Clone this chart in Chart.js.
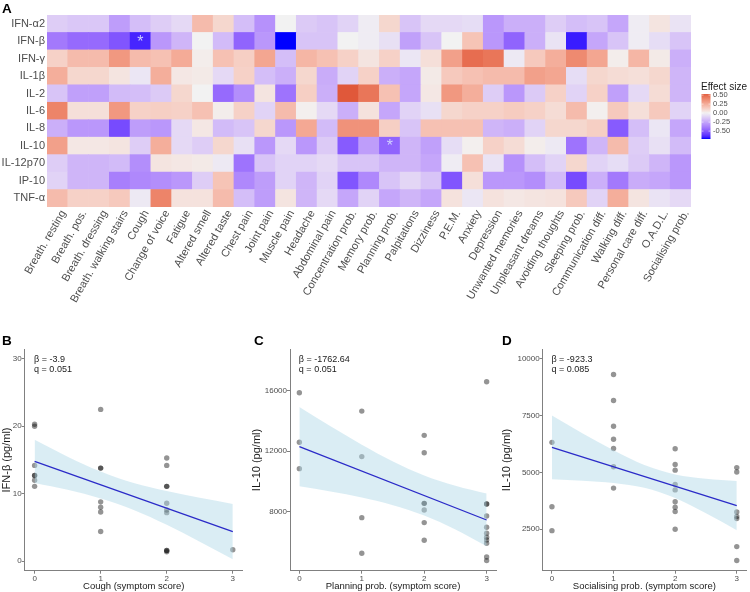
<!DOCTYPE html>
<html>
<head>
<meta charset="utf-8">
<title>Cytokines vs symptoms</title>
<script src="https://cdn.jsdelivr.net/npm/chart.js@4.4.1/dist/chart.umd.min.js"></script>
<style>
  body { margin: 0; background: #fff; font-family: "Liberation Sans", Arial, sans-serif; }
  #page { position: relative; width: 750px; height: 592px; overflow: hidden; }
  .box { position: absolute; }
  .tag { position: absolute; font-size: 13.5px; font-weight: bold; color: #000; line-height: 1; }
</style>
</head>
<body>
<div id="page">
  <div class="box" style="left:0;top:0;width:750px;height:330px"><canvas id="heat"></canvas></div>
  <div class="box" style="left:0;top:330px;width:250px;height:262px"><canvas id="panelB"></canvas></div>
  <div class="box" style="left:250px;top:330px;width:250px;height:262px"><canvas id="panelC"></canvas></div>
  <div class="box" style="left:500px;top:330px;width:250px;height:262px"><canvas id="panelD"></canvas></div>
  <div class="tag" style="left:2px;top:1.5px">A</div>
  <div class="tag" style="left:2px;top:334px">B</div>
  <div class="tag" style="left:254px;top:334px">C</div>
  <div class="tag" style="left:502px;top:334px">D</div>
</div>
<script>
// ---- panel A: effect sizes (rows = cytokines, columns = symptoms) ----
const symptoms = ["Breath. resting", "Breath. pos.", "Breath. dressing", "Breath. walking stairs", "Cough",
  "Change of voice", "Fatigue", "Altered smell", "Altered taste", "Chest pain", "Joint pain", "Muscle pain",
  "Headache", "Abdominal pain", "Concentration prob.", "Memory prob.", "Planning prob.", "Palpitations",
  "Dizziness", "P.E.M.", "Anxiety", "Depression", "Unwanted memories", "Unpleasant dreams",
  "Avoiding thoughts", "Sleeping prob.", "Communication diff.", "Walking diff.", "Personal care diff.",
  "O.A.D.L.", "Socialising prob."];
const cytokines = ["IFN-α2", "IFN-β", "IFN-γ", "IL-1β", "IL-2", "IL-6", "IL-8", "IL-10", "IL-12p70", "IP-10", "TNF-α"];

const ifnA2 = [-0.12, -0.14, -0.14, -0.28, -0.17, -0.12, -0.08, 0.2, 0.1, -0.17, -0.32, 0.0, -0.13, -0.15, -0.1, -0.02, 0.1, -0.15, -0.08, -0.08, -0.07, -0.3, -0.22, -0.22, -0.12, -0.17, -0.15, -0.25, -0.02, 0.05, -0.05];
const ifnB = [-0.4, -0.45, -0.45, -0.52, -0.66, -0.3, -0.2, 0.0, -0.18, -0.47, -0.3, -0.72, -0.15, -0.15, 0.0, -0.02, -0.06, -0.27, -0.15, 0.0, 0.17, -0.3, -0.47, -0.22, -0.05, -0.68, -0.25, -0.15, -0.02, -0.07, -0.15];
const ifnG = [0.12, 0.2, 0.2, 0.33, 0.2, 0.18, 0.26, 0.02, 0.18, 0.13, 0.28, -0.17, 0.22, 0.18, 0.12, 0.05, 0.12, -0.04, 0.07, 0.3, 0.48, 0.45, -0.03, 0.15, 0.25, 0.38, 0.28, 0.02, 0.22, 0.03, -0.22];
const il1b = [0.25, 0.1, 0.1, 0.05, -0.04, 0.25, 0.04, 0.03, -0.08, 0.12, -0.17, -0.22, 0.1, -0.23, -0.1, 0.12, -0.22, -0.25, 0.03, 0.15, 0.18, 0.2, 0.2, 0.3, 0.28, -0.07, 0.1, 0.08, 0.07, 0.1, -0.2];
const il2 = [-0.15, -0.27, -0.27, -0.18, -0.17, -0.13, 0.1, 0.0, -0.45, -0.33, 0.05, -0.42, 0.13, -0.22, 0.55, 0.45, 0.18, -0.25, 0.04, 0.33, 0.25, -0.12, -0.3, -0.13, 0.12, -0.1, 0.12, -0.27, -0.08, 0.08, -0.2];
const il6 = [0.4, 0.07, 0.07, 0.33, 0.12, 0.13, 0.12, 0.18, 0.02, 0.12, -0.1, 0.2, 0.01, -0.08, -0.22, 0.06, -0.25, -0.1, -0.06, 0.1, 0.12, 0.12, 0.14, 0.12, 0.08, 0.2, 0.01, 0.15, 0.07, 0.15, -0.1];
const il8 = [-0.22, -0.3, -0.3, -0.55, -0.28, -0.3, -0.08, 0.04, -0.18, -0.15, 0.1, -0.3, 0.27, -0.18, 0.35, 0.35, 0.13, -0.15, 0.18, 0.18, 0.18, -0.2, -0.22, -0.1, 0.1, 0.1, 0.13, -0.5, -0.17, -0.04, -0.25];
const il10 = [0.3, 0.04, 0.04, 0.05, -0.12, 0.25, -0.08, -0.12, 0.1, -0.06, -0.3, -0.08, -0.3, -0.13, -0.5, -0.28, -0.47, -0.2, -0.27, -0.07, 0.01, 0.12, 0.08, 0.02, -0.03, -0.42, -0.2, 0.2, -0.12, -0.06, -0.18];
const il12p70 = [-0.12, -0.2, -0.2, -0.18, -0.33, 0.05, 0.04, 0.03, -0.03, -0.42, -0.15, -0.1, -0.1, -0.08, -0.15, -0.15, -0.2, -0.2, -0.25, -0.02, 0.18, -0.05, -0.32, -0.17, -0.1, 0.1, -0.1, -0.07, -0.13, -0.2, -0.3];
const ip10 = [-0.1, -0.2, -0.2, -0.38, -0.35, -0.33, -0.3, -0.12, 0.17, -0.35, -0.28, -0.1, -0.2, -0.1, -0.52, -0.35, -0.15, -0.09, -0.15, -0.52, 0.07, -0.3, -0.3, -0.33, -0.18, -0.55, -0.22, -0.4, -0.23, -0.25, -0.3];
const tnfA = [0.2, 0.12, 0.12, 0.15, -0.03, 0.4, 0.06, 0.06, 0.2, -0.17, -0.28, 0.05, -0.2, -0.08, -0.25, -0.1, -0.25, -0.2, -0.25, 0.06, -0.04, 0.06, 0.04, 0.05, 0.06, 0.15, -0.1, 0.25, 0.05, -0.05, -0.08];
const effects = [ifnA2, ifnB, ifnG, il1b, il2, il6, il8, il10, il12p70, ip10, tnfA];

// significant cells marked with *
const starred = [["Cough", "IFN-β"], ["Planning prob.", "IL-10"]];
const legendTicks = [0.5, 0.25, 0, -0.25, -0.5];

// ---- panels B-D: symptom score vs cytokine level ----
const scoreTicks = [0, 1, 2, 3];
const bandX = [0, 0.5, 1, 1.5, 2, 2.5, 3];
const fitX = [0, 3];

const coughX = [0, 0, 0, 0, 0, 0, 0, 1, 1, 1, 1, 1, 1, 1, 2, 2, 2, 2, 2, 2, 2, 2, 2, 2, 3];
const ifnbY = [20.3, 20.0, 14.2, 12.7, 12.7, 12.0, 11.1, 22.5, 13.8, 13.8, 8.8, 8.0, 7.3, 4.4, 15.3, 14.2, 11.1, 11.1, 8.6, 7.6, 7.2, 1.6, 1.6, 1.4, 1.7];
const ifnbFit = [14.8, 4.4];
const ifnbUpper = [18.0, 15.5, 13.3, 11.6, 10.4, 9.4, 8.5];
const ifnbLower = [11.6, 10.6, 9.3, 7.6, 5.4, 2.9, 0.3];
const ifnbTicks = [0, 10, 20, 30];

const planningX = [0, 0, 0, 1, 1, 1, 1, 2, 2, 2, 2, 2, 2, 2, 3, 3, 3, 3, 3, 3, 3, 3, 3, 3, 3];
const il10PlanY = [15870, 12580, 10830, 14650, 11630, 7580, 5220, 13040, 11890, 8530, 8530, 8090, 7250, 6080, 16600, 8490, 8490, 7690, 6940, 6540, 6280, 6100, 5880, 4970, 4730];
const il10PlanFit = [12290, 7425];
const il10PlanUpper = [14920, 13640, 12420, 11310, 10380, 9690, 9175];
const il10PlanLower = [9660, 9320, 8920, 8410, 7720, 6790, 5675];
const il10PlanTicks = [8000, 12000, 16000];

const socialX = [0, 0, 0, 1, 1, 1, 1, 1, 1, 1, 2, 2, 2, 2, 2, 2, 2, 2, 2, 3, 3, 3, 3, 3, 3, 3];
const il10SocY = [6320, 3490, 2440, 9300, 8160, 7030, 6460, 6050, 5250, 4310, 6040, 5350, 5100, 4470, 4230, 3710, 3470, 3280, 2500, 5210, 5020, 3260, 3060, 2970, 1740, 1130];
const il10SocFit = [6100, 3540];
const il10SocUpper = [7500, 6710, 5970, 5320, 4910, 4720, 4620];
const il10SocLower = [4700, 4630, 4530, 4320, 3870, 3200, 2460];
const il10SocTicks = [2500, 5000, 7500, 10000];

Chart.defaults.font.family = '"Liberation Sans", Arial, sans-serif';
Chart.defaults.animation = false;
Chart.defaults.plugins.legend.display = false;
Chart.defaults.plugins.tooltip.enabled = false;

// diverging scale blue - grey95 - red, interpolated in Lab like ggplot
const lowCol = [0, 0, 255], midCol = [242, 242, 242], highCol = [224, 88, 58];
const effectMin = -0.72, effectMax = 0.55;

function toLab(rgb) {
  const [r, g, b] = rgb.map(c => { c /= 255; return c <= 0.04045 ? c / 12.92 : Math.pow((c + 0.055) / 1.055, 2.4); });
  const x = (0.4124 * r + 0.3576 * g + 0.1805 * b) / 0.95047;
  const y = 0.2126 * r + 0.7152 * g + 0.0722 * b;
  const z = (0.0193 * r + 0.1192 * g + 0.9505 * b) / 1.08883;
  const f = t => t > 0.008856 ? Math.cbrt(t) : 7.787 * t + 16 / 116;
  return [116 * f(y) - 16, 500 * (f(x) - f(y)), 200 * (f(y) - f(z))];
}
function fromLab([L, A, B]) {
  const fy = (L + 16) / 116, fx = fy + A / 500, fz = fy - B / 200;
  const inv = t => t * t * t > 0.008856 ? t * t * t : (t - 16 / 116) / 7.787;
  const x = inv(fx) * 0.95047, y = inv(fy), z = inv(fz) * 1.08883;
  const lin = [3.2406 * x - 1.5372 * y - 0.4986 * z, -0.9689 * x + 1.8758 * y + 0.0415 * z, 0.0557 * x - 0.2040 * y + 1.0570 * z];
  return lin.map(c => {
    c = Math.max(0, Math.min(1, c));
    c = c <= 0.0031308 ? 12.92 * c : 1.055 * Math.pow(c, 1 / 2.4) - 0.055;
    return Math.round(c * 255);
  });
}
function effectColor(v) {
  const t = v < 0 ? Math.min(1, v / effectMin) : Math.min(1, v / effectMax);
  const a = toLab(midCol), b = toLab(v < 0 ? lowCol : highCol);
  return 'rgb(' + fromLab(a.map((c, k) => c + (b[k] - c) * t)).join(',') + ')';
}

// asterisks + colourbar legend
const heatExtras = {
  id: 'heatExtras',
  afterDatasetsDraw(chart) {
    const ctx = chart.ctx, xs = chart.scales.x, ys = chart.scales.y;
    ctx.save();
    ctx.fillStyle = 'rgba(215,222,255,0.9)';
    ctx.font = '16px "Liberation Sans", Arial, sans-serif';
    ctx.textAlign = 'center';
    ctx.textBaseline = 'middle';
    starred.forEach(([s, c]) => {
      const x = xs.getPixelForValue(symptoms.indexOf(s));
      const y = ys.getPixelForValue(cytokines.length - 0.5 - cytokines.indexOf(c));
      ctx.fillText('*', x, y + 1);
    });
    ctx.restore();
  },
  afterDraw(chart) {
    const ctx = chart.ctx, area = chart.chartArea;
    const x0 = area.left + area.width + 10.5, top = area.top + 79, h = 45, w = 9;
    const vTop = 0.53, vBot = effectMin;
    const grad = ctx.createLinearGradient(0, top, 0, top + h);
    for (let i = 0; i <= 24; i++) {
      grad.addColorStop(i / 24, effectColor(vTop + (vBot - vTop) * i / 24));
    }
    ctx.save();
    ctx.fillStyle = grad;
    ctx.fillRect(x0, top, w, h);
    ctx.font = '7.5px "Liberation Sans", Arial, sans-serif';
    ctx.textBaseline = 'middle';
    legendTicks.forEach(v => {
      const y = top + (vTop - v) / (vTop - vBot) * h;
      ctx.strokeStyle = 'rgba(255,255,255,0.9)';
      ctx.lineWidth = 0.6;
      ctx.beginPath();
      ctx.moveTo(x0, y); ctx.lineTo(x0 + 2, y);
      ctx.moveTo(x0 + w - 2, y); ctx.lineTo(x0 + w, y);
      ctx.stroke();
      ctx.fillStyle = '#4D4D4D';
      ctx.fillText(v.toFixed(2), x0 + w + 2.5, y);
    });
    ctx.fillStyle = '#1A1A1A';
    ctx.font = '10px "Liberation Sans", Arial, sans-serif';
    ctx.fillText('Effect size', x0 - 0.5, top - 7);
    ctx.restore();
  }
};

new Chart(document.getElementById('heat'), {
  type: 'bar',
  data: {
    labels: symptoms,
    datasets: effects.map((row, i) => ({
      label: cytokines[i],
      data: row.map(() => 1),
      backgroundColor: row.map(effectColor),
      borderWidth: 0,
      categoryPercentage: 1,
      barPercentage: 1
    })).reverse()
  },
  options: {
    responsive: true,
    maintainAspectRatio: false,
    layout: { padding: { top: 15, right: 59, left: 0, bottom: 0 } },
    scales: {
      x: {
        stacked: true,
        grid: { display: false, drawTicks: false },
        border: { display: false },
        ticks: { autoSkip: false, minRotation: 60, maxRotation: 60, color: '#4D4D4D', font: { size: 11 },
          padding: 1, labelOffset: 6 },
        afterFit: s => { s.height = 123; }
      },
      y: {
        stacked: true,
        min: 0,
        max: cytokines.length,
        grid: { display: false, drawTicks: false },
        border: { display: false },
        afterBuildTicks: s => { s.ticks = cytokines.map((c, i) => ({ value: cytokines.length - 0.5 - i })); },
        ticks: { color: '#4D4D4D', font: { size: 11 }, padding: 2,
          callback: v => cytokines[Math.round(cytokines.length - 0.5 - v)] },
        afterFit: s => { s.width = 47; }
      }
    }
  },
  plugins: [heatExtras]
});

// beta / q text in the corner of each scatter panel
const statText = {
  id: 'statText',
  afterDraw(chart, args, opts) {
    const ctx = chart.ctx;
    const x = chart.scales.x.getPixelForValue(0) - 0.5;
    ctx.save();
    ctx.fillStyle = '#1A1A1A';
    ctx.font = '9px "Liberation Sans", Arial, sans-serif';
    ctx.textBaseline = 'middle';
    opts.lines.forEach((t, i) => ctx.fillText(t, x, chart.chartArea.top + 10.5 + i * 10));
    ctx.restore();
  }
};

function regressionPanel(id, cfg) {
  const pts = (xs, ys) => xs.map((x, i) => ({ x: x, y: ys[i] }));
  new Chart(document.getElementById(id), {
    type: 'scatter',
    data: {
      datasets: [
        { data: pts(fitX, cfg.fit), showLine: true, borderColor: '#2B2BC8', borderWidth: 1.3, pointRadius: 0 },
        { data: pts(bandX, cfg.upper), showLine: true, borderColor: 'transparent', borderWidth: 0, pointRadius: 0,
          cubicInterpolationMode: 'monotone', fill: '+1', backgroundColor: 'rgba(173,216,230,0.45)' },
        { data: pts(bandX, cfg.lower), showLine: true, borderColor: 'transparent', borderWidth: 0, pointRadius: 0,
          cubicInterpolationMode: 'monotone' },
        { data: pts(cfg.x, cfg.y), pointRadius: 2.7, backgroundColor: 'rgba(0,0,0,0.42)', borderWidth: 0 }
      ]
    },
    options: {
      responsive: true,
      maintainAspectRatio: false,
      layout: { padding: { top: 19.3, right: cfg.padRight, left: 0, bottom: 0 } },
      scales: {
        x: {
          type: 'linear', min: -0.15, max: 3.15,
          afterBuildTicks: s => { s.ticks = scoreTicks.map(v => ({ value: v })); },
          grid: { drawOnChartArea: false, tickLength: 3, color: '#808080' },
          border: { color: '#808080', width: 1 },
          ticks: { color: '#4D4D4D', font: { size: 8 }, padding: 0, callback: v => String(v) },
          title: { display: true, text: cfg.xTitle, color: '#1A1A1A', font: { size: 9.5 }, padding: 0 },
          afterFit: s => { s.height = 21.3; }
        },
        y: {
          type: 'linear', min: cfg.yMin, max: cfg.yMax,
          afterBuildTicks: s => { s.ticks = cfg.ticks.map(v => ({ value: v })); },
          grid: { drawOnChartArea: false, tickLength: 3, color: '#808080' },
          border: { color: '#808080', width: 1 },
          ticks: { color: '#4D4D4D', font: { size: 8 }, padding: 0, callback: v => String(v) },
          title: { display: true, text: cfg.yTitle, color: '#1A1A1A', font: { size: 11 }, padding: { top: 0, bottom: 0 } },
          afterFit: s => { s.width = cfg.axisW; }
        }
      },
      plugins: { statText: { lines: cfg.stats } }
    },
    plugins: [statText]
  });
}

regressionPanel('panelB', {
  x: coughX, y: ifnbY, fit: ifnbFit, upper: ifnbUpper, lower: ifnbLower, ticks: ifnbTicks,
  yMin: -1.4, yMax: 31.4, axisW: 24.7, padRight: 7.3,
  xTitle: 'Cough (symptom score)', yTitle: 'IFN-β (pg/ml)', stats: ['β = -3.9', 'q = 0.051']
});
regressionPanel('panelC', {
  x: planningX, y: il10PlanY, fit: il10PlanFit, upper: il10PlanUpper, lower: il10PlanLower, ticks: il10PlanTicks,
  yMin: 4060, yMax: 18750, axisW: 40, padRight: 4,
  xTitle: 'Planning prob. (symptom score)', yTitle: 'IL-10 (pg/ml)', stats: ['β = -1762.64', 'q = 0.051']
});
regressionPanel('panelD', {
  x: socialX, y: il10SocY, fit: il10SocFit, upper: il10SocUpper, lower: il10SocLower, ticks: il10SocTicks,
  yMin: 680, yMax: 10410, axisW: 42.7, padRight: 1.3,
  xTitle: 'Socialising prob. (symptom score)', yTitle: 'IL-10 (pg/ml)', stats: ['β = -923.3', 'q = 0.085']
});
</script>
</body>
</html>
